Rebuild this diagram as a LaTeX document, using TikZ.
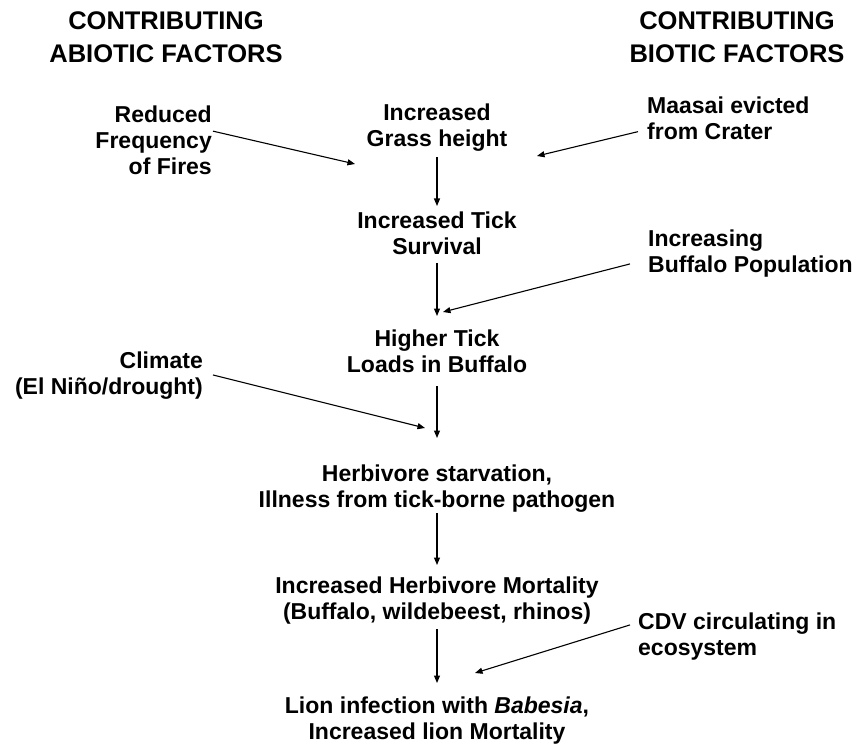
\documentclass[tikz,border=0pt]{standalone}
\usepackage{fontspec}
\setmainfont{Liberation Sans}
\usetikzlibrary{arrows.meta}

\begin{document}
\begin{tikzpicture}[x=1pt,y=-1pt]
			\tikzstyle{every node}=[inner sep=0pt,font=\bfseries\fontsize{23}{26}\selectfont]
			\tikzstyle{head}=[align=center,anchor=north,font=\bfseries\fontsize{25.5}{33}\selectfont]
			\tikzstyle{step node}=[align=center,anchor=north]
			\tikzstyle{abiotic}=[align=right,anchor=north east]
			\tikzstyle{biotic}=[align=left,anchor=north west]
			\tikzstyle{arr}=[-{Triangle[length=7.5pt,width=6pt]},line width=1.1pt]
			\useasboundingbox (0,0) rectangle (860,749);
			% column headers
			\node[head] (hdrAbiotic) at (166,11) {CONTRIBUTING\\ABIOTIC FACTORS};
			\node[head] (hdrBiotic) at (737,11) {CONTRIBUTING\\BIOTIC FACTORS};
			% main chain
			\node[step node] (grass) at (437,104) {Increased\\Grass height};
			\node[step node] (tickSurv) at (437,212) {Increased Tick\\Survival};
			\node[step node] (tickLoad) at (437,330) {Higher Tick\\Loads in Buffalo};
			\node[step node] (starve) at (437,465) {Herbivore starvation,\\Illness from tick-borne pathogen};
			\node[step node] (herbMort) at (437,577) {Increased Herbivore Mortality\\(Buffalo, wildebeest, rhinos)};
			\node[step node] (lionMort) at (437,697) {Lion infection with \textit{Babesia},\\Increased lion Mortality};
			% factors
			\node[abiotic] (fires) at (212,106) {Reduced\\Frequency\\of Fires};
			\node[abiotic] (climate) at (203,352) {Climate\\(El Niño/drought)};
			\node[biotic] (maasai) at (647,97) {Maasai evicted\\from Crater};
			\node[biotic] (buffalo) at (648,230) {Increasing\\Buffalo Population};
			\node[biotic] (cdv) at (638,613) {CDV circulating in\\ecosystem};
			% free ends of the side arrows
			\coordinate (firesEnd) at (355,164);
			\coordinate (maasaiEnd) at (537,156);
			\coordinate (buffaloEnd) at (443,312);
			\coordinate (climateEnd) at (425,428);
			\coordinate (cdvEnd) at (475,673);
			% arrows
			\draw[arr,shorten <=5pt,shorten >=6pt] (grass) -- (tickSurv);
			\draw[arr,shorten <=7.5pt,shorten >=14pt] (tickSurv) -- (tickLoad);
			\draw[arr,shorten <=13pt,shorten >=27pt] (tickLoad) -- (starve);
			\draw[arr,shorten >=12pt] (starve) -- (herbMort);
			\draw[arr,shorten <=4pt,shorten >=14pt] (herbMort) -- (lionMort);
			\draw[arr] ([shift={(1,-9.5)}]fires.east) -- (firesEnd);
			\draw[arr] ([shift={(10,-1)}]climate.east) -- (climateEnd);
			\draw[arr] ([shift={(-9,13)}]maasai.west) -- (maasaiEnd);
			\draw[arr] ([shift={(-18,10)}]buffalo.west) -- (buffaloEnd);
			\draw[arr] ([shift={(-8,-12)}]cdv.west) -- (cdvEnd);
		\end{tikzpicture}
\end{document}
